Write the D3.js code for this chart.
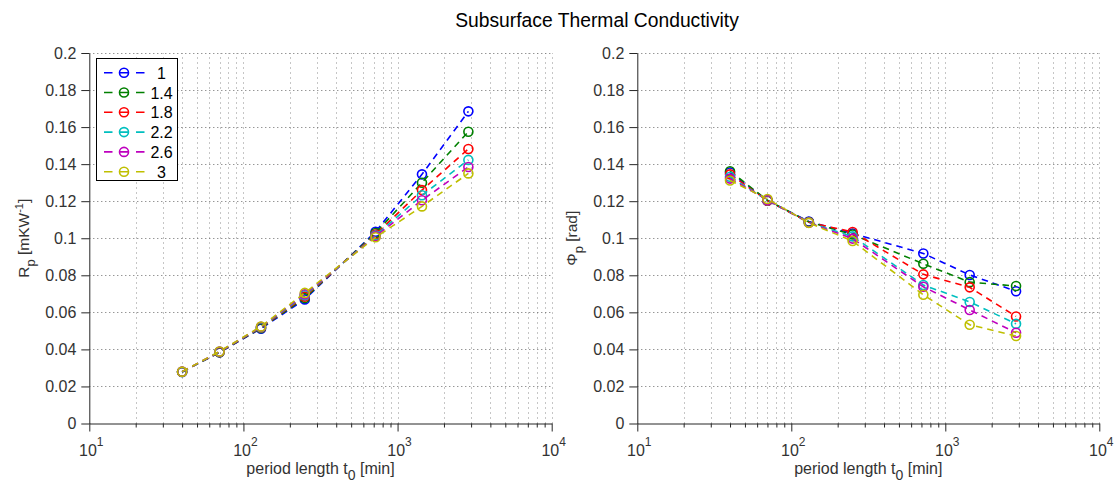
<!DOCTYPE html>
<html>
<head>
<meta charset="utf-8">
<script src="https://cdn.jsdelivr.net/npm/d3@7"></script>
<style>
  html, body { margin: 0; padding: 0; background: #fff; }
  svg { display: block; font-family: "Liberation Sans", Arial, sans-serif; }
</style>
</head>
<body>
<svg id="chart" width="1119" height="482"></svg>
<script>
// Period lengths t0 in minutes
const periods = [40, 70, 130, 250, 720, 1440, 2880];

// Thermal conductivity values shown as separate series
const conductivity = ["1", "1.4", "1.8", "2.2", "2.6", "3"];
const seriesColors = ["#0000ff", "#008000", "#ff0000", "#00bfbf", "#bf00bf", "#bfbf00"];

// Amplitude ratio R_p, one row per conductivity
const rpValues = [
  [0.0278, 0.0384, 0.0512, 0.0670, 0.1035, 0.1345, 0.1685],
  [0.0278, 0.0385, 0.0515, 0.0677, 0.1028, 0.1300, 0.1575],
  [0.0279, 0.0386, 0.0518, 0.0685, 0.1020, 0.1260, 0.1482],
  [0.0279, 0.0387, 0.0520, 0.0692, 0.1015, 0.1232, 0.1423],
  [0.0280, 0.0388, 0.0522, 0.0698, 0.1010, 0.1205, 0.1385],
  [0.0280, 0.0389, 0.0524, 0.0705, 0.1005, 0.1172, 0.1350]
];

// Phase shift Phi_p in rad, one row per conductivity
const phiValues = [
  [0.1355, 0.1203, 0.1090, 0.1026, 0.0918, 0.0802, 0.0714],
  [0.1362, 0.1205, 0.1088, 0.1020, 0.0862, 0.0763, 0.0742],
  [0.1345, 0.1203, 0.1086, 0.1034, 0.0805, 0.0735, 0.0578],
  [0.1332, 0.1205, 0.1085, 0.1010, 0.0748, 0.0656, 0.0538],
  [0.1322, 0.1207, 0.1084, 0.0998, 0.0738, 0.0613, 0.0490],
  [0.1312, 0.1212, 0.1083, 0.0985, 0.0695, 0.0533, 0.0472]
];

const yTicks = [0, 0.02, 0.04, 0.06, 0.08, 0.1, 0.12, 0.14, 0.16, 0.18, 0.2];
const xMajorTicks = [10, 100, 1000, 10000];
const xTickExponents = ["1", "2", "3", "4"];

const titleText = "Subsurface Thermal Conductivity";
const xLabelMain = "period length t";
const xLabelSub = "0";

const svg = d3.select("#chart");
const textColor = "#333333";
const axisColor = "#262626";

const plotTop = 53, plotBottom = 423.5;
const panels = [
  { left: 89.3, right: 551.7, data: rpValues, ylabel: "R", ysub: "p", ytail: " [mKW", ysup: "-1", yend: "]", legend: true },
  { left: 637.3, right: 1099.3, data: phiValues, ylabel: "\u03a6", ysub: "p", ytail: " [rad]", ysup: null, yend: "", legend: false }
];

// minor x tick positions 2..9 x 10^k
const xMinor = [];
[10, 100, 1000].forEach(d => { for (let k = 2; k <= 9; k++) xMinor.push(d * k); });

svg.append("text")
  .attr("x", 597).attr("y", 27)
  .attr("text-anchor", "middle")
  .attr("font-size", 19.3)
  .attr("fill", "#000")
  .text(titleText);

panels.forEach(p => {
  const x = d3.scaleLog().domain([10, 10000]).range([p.left, p.right]);
  const y = d3.scaleLinear().domain([0, 0.2]).range([plotBottom, plotTop]);
  const g = svg.append("g");

  // grid: vertical at every decade and sub-decade, horizontal at major y ticks
  const grid = g.append("g").attr("fill", "none");
  xMinor.concat(xMajorTicks.slice(1)).forEach(v => {
    const px = Math.round(x(v)) + 0.5;
    grid.append("line")
      .attr("x1", px).attr("x2", px)
      .attr("y1", plotBottom).attr("y2", plotTop)
      .attr("stroke", "#8c8c8c").attr("stroke-width", 1)
      .attr("stroke-dasharray", "1,4");
  });
  yTicks.slice(1).forEach(v => {
    grid.append("line")
      .attr("x1", p.left).attr("x2", p.right)
      .attr("y1", Math.round(y(v)) + 0.5).attr("y2", Math.round(y(v)) + 0.5)
      .attr("stroke", "#6a6a6a").attr("stroke-width", 1)
      .attr("stroke-dasharray", "1,3");
  });

  // x axis: major + minor ticks
  const xAxis = d3.axisBottom(x).tickValues(xMajorTicks).tickSize(8).tickSizeOuter(0).tickFormat("");
  const xAxisG = g.append("g").attr("transform", `translate(0,${plotBottom})`).call(xAxis);
  const xMinorG = g.append("g").attr("transform", `translate(0,${plotBottom})`)
    .call(d3.axisBottom(x).tickValues(xMinor).tickSize(4).tickSizeOuter(0).tickFormat(""));
  xMinorG.select(".domain").remove();
  [xAxisG, xMinorG].forEach(a => {
    a.selectAll("line").attr("stroke", axisColor);
    a.selectAll(".domain").attr("stroke", axisColor);
  });

  // decade labels 10^n
  xMajorTicks.forEach((v, i) => {
    const t = g.append("text")
      .attr("x", x(v) + 2).attr("y", 456)
      .attr("text-anchor", "middle")
      .attr("font-size", 16)
      .attr("fill", textColor);
    t.append("tspan").text("10");
    t.append("tspan").attr("dy", -10).attr("font-size", 12).text(xTickExponents[i]);
  });

  // y axis
  const yAxis = d3.axisLeft(y).tickValues(yTicks).tickSize(8).tickSizeOuter(0)
    .tickFormat(v => String(+v.toFixed(2)));
  const yAxisG = g.append("g").attr("transform", `translate(${p.left},0)`).call(yAxis);
  yAxisG.selectAll("line").attr("stroke", axisColor);
  yAxisG.select(".domain").attr("stroke", axisColor);
  yAxisG.selectAll("text")
    .attr("font-size", 16)
    .attr("font-family", "Liberation Sans, Arial, sans-serif")
    .attr("fill", textColor)
    .attr("x", -13);

  // x label
  const xl = g.append("text")
    .attr("x", (p.left + p.right) / 2).attr("y", 474)
    .attr("text-anchor", "middle")
    .attr("font-size", 16)
    .attr("fill", textColor);
  xl.append("tspan").text(xLabelMain);
  xl.append("tspan").attr("dy", 6).attr("font-size", 14).text(xLabelSub);
  xl.append("tspan").attr("dy", -6).text(" [min]");

  // y label
  const yl = g.append("text")
    .attr("transform", `translate(${p.left - 60},${(plotTop + plotBottom) / 2}) rotate(-90)`)
    .attr("text-anchor", "middle")
    .attr("font-size", 15.5)
    .attr("fill", textColor);
  yl.append("tspan").text(p.ylabel);
  yl.append("tspan").attr("dy", 6).attr("font-size", 13).text(p.ysub);
  yl.append("tspan").attr("dy", -6).text(p.ytail);
  if (p.ysup) {
    yl.append("tspan").attr("dy", -6).attr("font-size", 11).text(p.ysup);
    yl.append("tspan").attr("dy", 6).text(p.yend);
  }

  // series
  const line = d3.line().x((d, i) => x(periods[i])).y(d => y(d));
  p.data.forEach((vals, s) => {
    const sg = g.append("g");
    sg.append("path")
      .attr("d", line(vals))
      .attr("fill", "none")
      .attr("stroke", seriesColors[s])
      .attr("stroke-width", 1.6)
      .attr("stroke-dasharray", "6.5,5");
    sg.selectAll("circle").data(vals).join("circle")
      .attr("cx", (d, i) => x(periods[i]))
      .attr("cy", d => y(d))
      .attr("r", 4.5)
      .attr("fill", "none")
      .attr("stroke", seriesColors[s])
      .attr("stroke-width", 1.6);
  });

  if (p.legend) {
    const lg = g.append("g");
    lg.append("rect")
      .attr("x", 96.5).attr("y", 58.5)
      .attr("width", 81).attr("height", 122)
      .attr("fill", "#fff").attr("stroke", "#000").attr("stroke-width", 1);
    conductivity.forEach((c, i) => {
      const cy = 72.7 + i * 19.8;
      lg.append("line")
        .attr("x1", 104).attr("x2", 145)
        .attr("y1", cy).attr("y2", cy)
        .attr("stroke", seriesColors[i]).attr("stroke-width", 1.6)
        .attr("stroke-dasharray", "8.5,7.5");
      lg.append("circle")
        .attr("cx", 124).attr("cy", cy).attr("r", 4.5)
        .attr("fill", "none").attr("stroke", seriesColors[i]).attr("stroke-width", 1.6);
      lg.append("text")
        .attr("x", 161.5).attr("y", cy + 6)
        .attr("text-anchor", "middle")
        .attr("font-size", 16)
        .attr("fill", "#000")
        .text(c);
    });
  }
});
</script>
</body>
</html>
